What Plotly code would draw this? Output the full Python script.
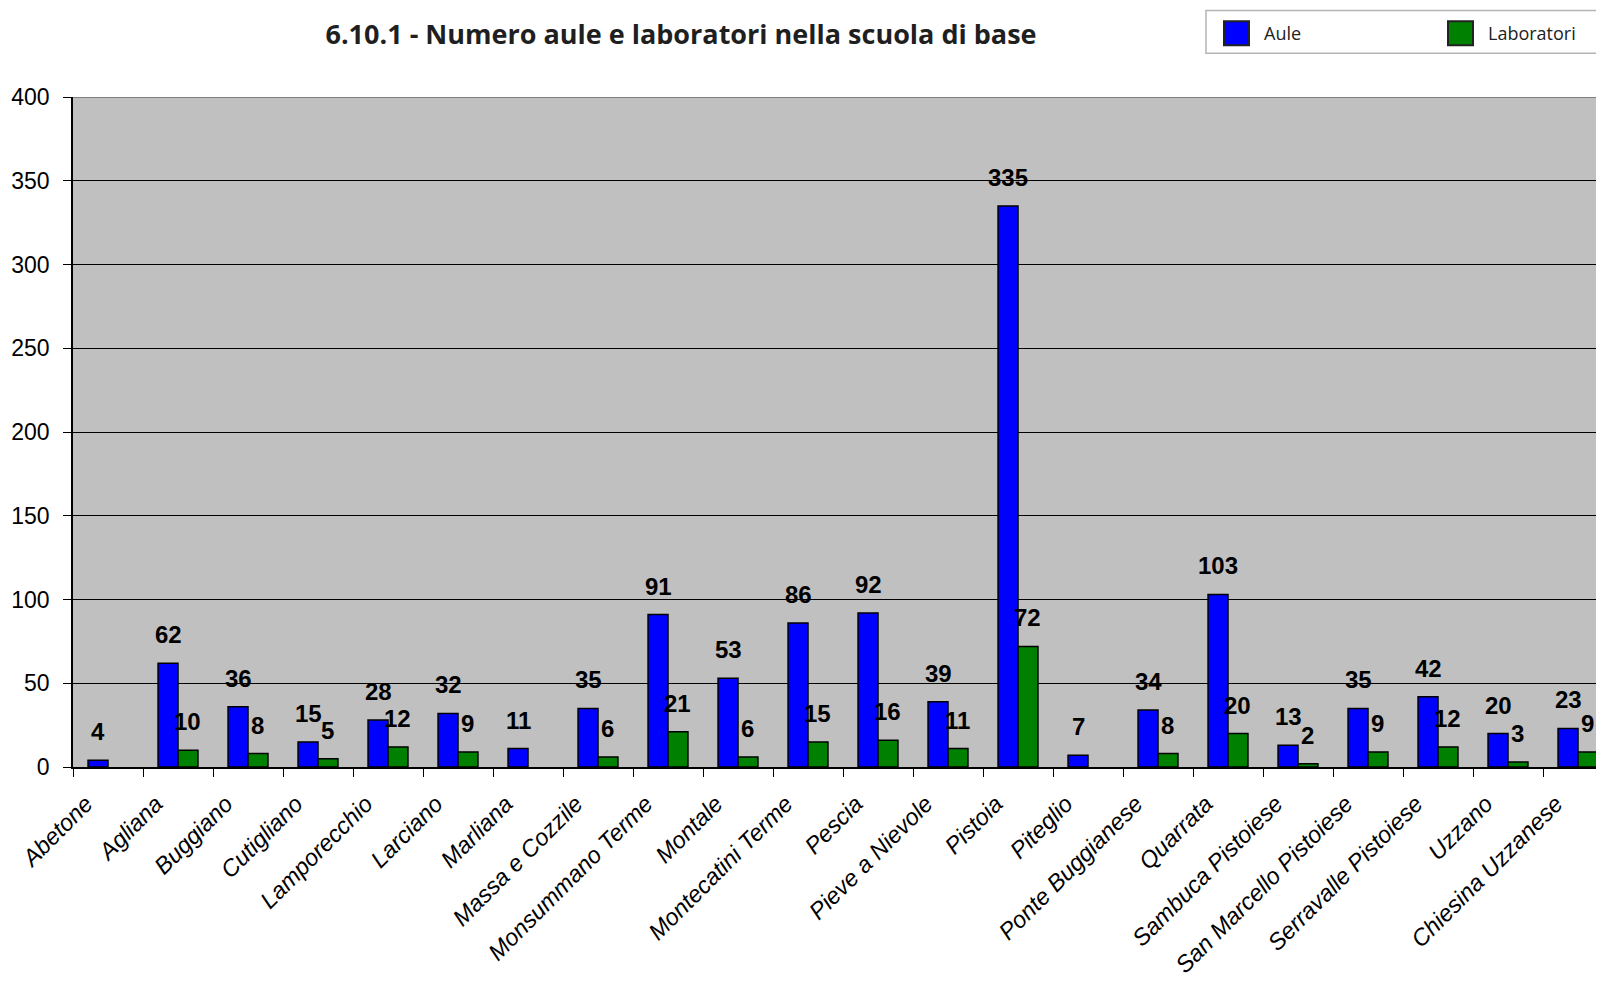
import plotly.graph_objects as go

comuni = ["Abetone", "Agliana", "Buggiano", "Cutigliano", "Lamporecchio", "Larciano",
          "Marliana", "Massa e Cozzile", "Monsummano Terme", "Montale", "Montecatini Terme",
          "Pescia", "Pieve a Nievole", "Pistoia", "Piteglio", "Ponte Buggianese", "Quarrata",
          "Sambuca Pistoiese", "San Marcello Pistoiese", "Serravalle Pistoiese", "Uzzano",
          "Chiesina Uzzanese"]
aule = [4, 62, 36, 15, 28, 32, 11, 35, 91, 53, 86, 92, 39, 335, 7, 34, 103, 13, 35, 42, 20, 23]
laboratori = [None, 10, 8, 5, 12, 9, None, 6, 21, 6, 15, 16, 11, 72, None, 8, 20, 2, 9, 12, 3, 9]

y_ticks = [0, 50, 100, 150, 200, 250, 300, 350, 400]

# the page body adds an 8px offset; keep the figure inside the window
OFF = 8
W, H = 1604 - 2 * OFF, 986 - 2 * OFF
ML, MT, MB, MR = 73 - OFF, 97 - OFF, H - (770 - OFF), 0
plot_w = W - ML - MR
plot_h = H - MT - MB
cat_px = 70.0
x_range = [-0.5, -0.5 + plot_w / cat_px]
bargap = 0.43
bar_px = cat_px * (1 - bargap) / 2


def px_x(x):
    return (x - OFF - ML) / plot_w


def px_y(y):
    return (H - MB - (y - OFF)) / plot_h


fig = go.Figure()
fig.add_trace(go.Bar(x=comuni, y=aule, name="Aule", showlegend=False,
                     marker=dict(color="#0000FF", line=dict(color="black", width=1.5))))
fig.add_trace(go.Bar(x=comuni, y=laboratori, name="Laboratori", showlegend=False,
                     marker=dict(color="#008000", line=dict(color="black", width=1.5))))

label_font = dict(family="Liberation Sans, Arial", size=24, color="black", weight="bold")
for vals, shift in [(aule, -bar_px / 2), (laboratori, bar_px / 2)]:
    for c, v in zip(comuni, vals):
        if v is None:
            continue
        fig.add_annotation(x=c, y=v, xref="x", yref="y", text=str(v), showarrow=False,
                           xanchor="center", yanchor="bottom", xshift=shift, yshift=13,
                           font=label_font)

fig.update_layout(
    width=W, height=H,
    margin=dict(l=ML, r=MR, t=MT, b=MB),
    paper_bgcolor="white", plot_bgcolor="#C0C0C0",
    barmode="group", bargap=bargap, bargroupgap=0,
    title=dict(text="6.10.1 - Numero aule e laboratori nella scuola di base",
               x=(681 - OFF) / W, xanchor="center", y=1 - (35 - OFF) / H, yanchor="middle",
               font=dict(family="Open Sans", size=27, color="#1F1F1F", weight="bold")),
    showlegend=False,
)

fig.update_xaxes(
    range=x_range, tickson="boundaries", ticks="outside", ticklen=8,
    tickcolor="black", showline=True, linecolor="black", linewidth=1.5,
    showgrid=False, tickangle=-45, ticklabelshift=-22, ticklabelstandoff=12,
    tickfont=dict(family="Liberation Sans, Arial", size=23.5, color="black", style="italic"),
)
fig.update_yaxes(
    range=[0, 400], tickvals=y_ticks, ticks="outside", ticklen=8, tickcolor="black",
    showline=True, linecolor="black", linewidth=1.5, showgrid=True,
    gridcolor="black", gridwidth=1, zeroline=False, ticklabelstandoff=9,
    tickfont=dict(family="Liberation Sans, Arial", size=23, color="black"),
)

fig.add_shape(type="line", xref="paper", yref="y", x0=0, x1=1, y0=400, y1=400,
              line=dict(color="#808080", width=2))

# legend box drawn by hand (big square swatches as in the original)
fig.add_shape(type="rect", xref="paper", yref="paper",
              x0=px_x(1206), x1=px_x(1640), y0=px_y(10), y1=px_y(53),
              line=dict(color="#B4B4B4", width=1.5), fillcolor="white")
for name, color, sx, tx in [("Aule", "#0000FF", 1224, 1262),
                            ("Laboratori", "#008000", 1448, 1486)]:
    fig.add_shape(type="rect", xref="paper", yref="paper",
                  x0=px_x(sx), x1=px_x(sx + 25), y0=px_y(21), y1=px_y(45),
                  line=dict(color="#222222", width=2), fillcolor=color)
    fig.add_annotation(xref="paper", yref="paper", x=px_x(tx), y=px_y(33),
                       text=name, showarrow=False, xanchor="left", yanchor="middle",
                       font=dict(family="Open Sans", size=18, color="#222222"))

fig.write_html("out.html")
